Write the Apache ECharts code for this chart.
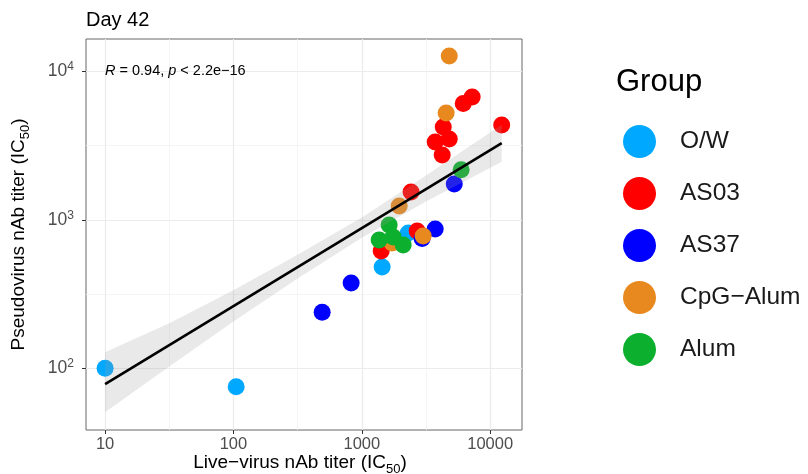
<!DOCTYPE html>
<html><head><meta charset="utf-8">
<script src="https://cdn.jsdelivr.net/npm/echarts@6/dist/echarts.min.js"></script>
<style>html,body{margin:0;padding:0;background:#fff}#c{width:808px;height:474px}</style>
</head><body><div id="c"></div><script>
// ---- data ----
const groups = ['O/W', 'AS03', 'AS37', 'CpG−Alum', 'Alum'];
const owData   = [[10, 100], [105, 75], [1440, 481], [2300, 817]];
const as03Data = [[12300, 4355], [7240, 6730], [6170, 6080], [4310, 4225], [3730, 3350],
                  [4800, 3515], [4230, 2735], [2420, 1540], [1416, 617], [2700, 841]];
const as37Data = [[491, 239], [826, 376], [3730, 868], [2950, 750], [5250, 1746]];
const cpgData  = [[4800, 12740], [4540, 5250], [1955, 1242], [3005, 780], [1722, 698]];
const alumData = [[5940, 2175], [1633, 925], [1365, 733], [1754, 768], [2100, 678]];
const fitX = [10, 12300];
const fitY = [78.3, 3290];
const bandX    = [10, 31.62, 100, 316.2, 1000, 3162, 12300];
const bandLow  = [50.6, 103, 207, 403, 759, 1330, 2466];
const bandHigh = [128.5, 201, 336, 582, 1038, 1995, 4385];
const xTicks = [10, 100, 1000, 10000];
const xMinor = [31.62, 316.2, 3162];
const yTicks = [100, 1000, 10000];
const yMinor = [316.2, 3162];

const colors = ['#00A9FF', '#FF0000', '#0000FF', '#E8891F', '#0DB02E'];
const FF = '"Liberation Sans", Arial, Helvetica, sans-serif';
const seriesData = [owData, as03Data, as37Data, cpgData, alumData];

const chart = echarts.init(document.getElementById('c'), null, {renderer: 'canvas'});
const xRange = {min: 7.1, max: 17700};
const yRange = {min: 38.4, max: 16560};

const option = {
  animation: false,
  backgroundColor: '#fff',
  color: colors,
  textStyle: {fontFamily: FF},
  title: [
    {text: 'Day 42', left: 86, top: 10, padding: 0,
     textStyle: {fontSize: 20, fontWeight: 'normal', color: '#000', fontFamily: FF}},
    {text: 'Group', left: 616, top: 67, padding: 0,
     textStyle: {fontSize: 31, fontWeight: 'normal', color: '#000', fontFamily: FF}}
  ],
  legend: {
    orient: 'vertical', left: 623, top: 125, padding: 0,
    itemWidth: 33, itemHeight: 33, itemGap: 19, icon: 'circle',
    selectedMode: false, data: groups,
    textStyle: {fontSize: 24.5, color: '#1A1A1A', fontFamily: FF, padding: [0, 0, 0, 19]}
  },
  grid: {left: 86, top: 39, right: 286, bottom: 44, show: true, outerBoundsMode: 'none',
         containLabel: false,
         borderColor: '#666', borderWidth: 1, backgroundColor: '#fff'},
  xAxis: [
    {type: 'log', logBase: 10, min: xRange.min, max: xRange.max,
     axisLine: {show: false},
     axisTick: {show: true, customValues: xTicks, length: 4, lineStyle: {color: '#333', width: 1}},
     axisLabel: {customValues: xTicks, margin: 6, fontSize: 16.5, color: '#4D4D4D', fontFamily: FF,
                 formatter: v => String(Math.round(v))},
     splitLine: {show: true, lineStyle: {color: '#EBEBEB', width: 1.2}},
     name: '{n|Live−virus nAb titer (IC}{s|50}{n|)}',
     nameLocation: 'middle', nameGap: 19, nameMoveOverlap: false,
     nameTextStyle: {padding: [0, 8, 0, 0], rich: {
       n: {fontSize: 19, color: '#000', fontFamily: FF},
       s: {fontSize: 13, color: '#000', fontFamily: FF, padding: [14, 0, 0, 0]}
     }}},
    {type: 'log', logBase: 10, min: xRange.min, max: xRange.max, position: 'top',
     axisLine: {show: false},
     axisTick: {show: false, customValues: xMinor},
     axisLabel: {show: false, customValues: xMinor},
     splitLine: {show: true, lineStyle: {color: '#F2F2F2', width: 0.8}}}
  ],
  yAxis: [
    {type: 'log', logBase: 10, min: yRange.min, max: yRange.max,
     axisLine: {show: false},
     axisTick: {show: true, customValues: yTicks, length: 4, lineStyle: {color: '#333', width: 1}},
     axisLabel: {customValues: yTicks, margin: 12, color: '#4D4D4D', fontFamily: FF,
                 formatter: v => '{b|10}{s|' + Math.round(Math.log10(v)) + '}',
                 rich: {
                   b: {fontSize: 17.5, color: '#4D4D4D', fontFamily: FF},
                   s: {fontSize: 12, color: '#4D4D4D', fontFamily: FF, padding: [0, 0, 9, 0]}
                 }},
     splitLine: {show: true, lineStyle: {color: '#EBEBEB', width: 1.2}},
     name: '{n|Pseudovirus nAb titer (IC}{s|50}{n|)}',
     nameLocation: 'middle', nameGap: 54, nameRotate: 90, nameMoveOverlap: false,
     nameTextStyle: {rich: {
       n: {fontSize: 19, color: '#000', fontFamily: FF},
       s: {fontSize: 13, color: '#000', fontFamily: FF, padding: [14, 0, 0, 0]}
     }}},
    {type: 'log', logBase: 10, min: yRange.min, max: yRange.max, position: 'right',
     axisLine: {show: false},
     axisTick: {show: false, customValues: yMinor},
     axisLabel: {show: false, customValues: yMinor},
     splitLine: {show: true, lineStyle: {color: '#F2F2F2', width: 0.8}}}
  ],
  graphic: [
    {type: 'text', left: 105, top: 63, z: 100,
     style: {text: '{i|R} = 0.94, {i|p} < 2.2e−16',
             rich: {i: {fontStyle: 'italic', fontSize: 14.5, fontFamily: FF, fill: '#000'}},
             fontSize: 14.5, fontFamily: FF, fill: '#000'}}
  ],
  series: [
    ...groups.map((g, i) => ({
      name: g, type: 'scatter', z: 2, xAxisIndex: 0, yAxisIndex: 0,
      symbol: 'circle', symbolSize: 17,
      itemStyle: {color: colors[i], opacity: 1},
      data: seriesData[i]
    })),
    {
      type: 'custom', name: 'band', z: 3, silent: true, xAxisIndex: 0, yAxisIndex: 0,
      data: bandX.map((x, i) => [x, bandLow[i], bandHigh[i]]),
      encode: {x: 0, y: [1, 2]},
      renderItem: (params, api) => {
        if (params.dataIndex !== 0) return null;
        const up = [], lo = [];
        for (let i = 0; i < bandX.length; i++) {
          up.push(api.coord([bandX[i], bandHigh[i]]));
          lo.push(api.coord([bandX[i], bandLow[i]]));
        }
        return {type: 'polygon', shape: {points: up.concat(lo.reverse())},
                style: {fill: 'rgba(153,153,153,0.22)'}};
      }
    },
    {
      type: 'line', name: 'fit', z: 4, silent: true, xAxisIndex: 0, yAxisIndex: 0,
      symbol: 'none', data: fitX.map((x, i) => [x, fitY[i]]),
      lineStyle: {color: '#000', width: 2.6}
    }
  ]
};
chart.setOption(option);
</script></body></html>
